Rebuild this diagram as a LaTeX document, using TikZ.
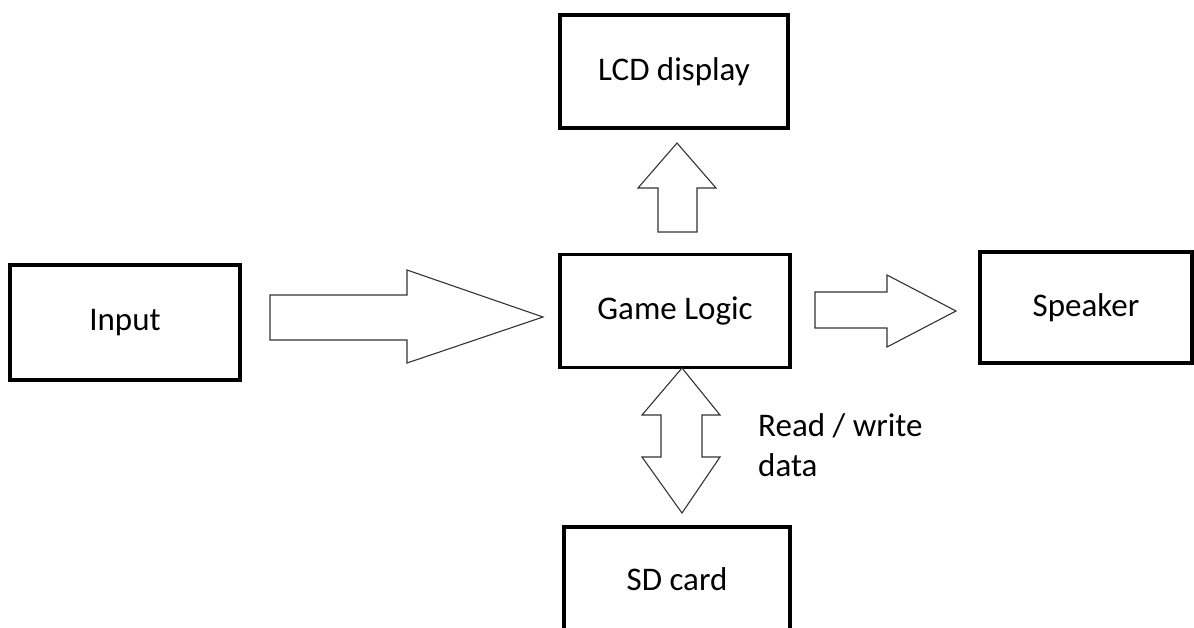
\documentclass[tikz,border=0pt]{standalone}
\usepackage{fontspec}
\setmainfont{Carlito}

\begin{document}
\begin{tikzpicture}[x=1pt,y=-1pt,
        block/.style={draw, line width=3.4pt, minimum width=228pt, minimum height=113pt, inner sep=0pt,
            font=\fontsize{33}{40}\selectfont},
        fatarrow/.style={draw=black!80, line width=1.1pt, line join=miter}]
        \useasboundingbox (0,0) rectangle (1194,627);

        \node[block, minimum width=230pt, minimum height=115pt] (input) at (125,322.5) {Input}; %input
        \node[block] (lcd) at (674,71.5) {LCD display}; %lcd
        \node[block, minimum width=230pt] (game) at (675,311) {Game Logic}; %game logic
        \node[block, minimum width=212pt, minimum height=111pt] (speaker) at (1086,307.5) {Speaker}; %speaker
        \node[block, minimum width=226pt, minimum height=104pt] (sd) at (677,579) {SD card}; %sd card

        \draw[fatarrow] (270,295) -- (407,295) -- (407,270) -- (543,317) -- (407,363) -- (407,340) -- (270,340) -- cycle; %input -> game
        \draw[fatarrow] (658,232) -- (658,188) -- (638,188) -- (677,143) -- (716,188) -- (697,188) -- (697,232) -- cycle; %game -> lcd
        \draw[fatarrow] (815,292) -- (887,292) -- (887,275) -- (956,311) -- (887,347) -- (887,328) -- (815,328) -- cycle; %game -> speaker
        \draw[fatarrow] (682,368) -- (720,415) -- (702,415) -- (702,457) -- (720,457) -- (682,513)
            -- (642,457) -- (661,457) -- (661,415) -- (642,415) -- cycle; %game <-> sd

        \node[anchor=west, align=left, inner sep=0pt, font=\fontsize{33}{40}\selectfont] (rwlabel)
            at (758,445) {Read / write\\data};
    \end{tikzpicture}
\end{document}
